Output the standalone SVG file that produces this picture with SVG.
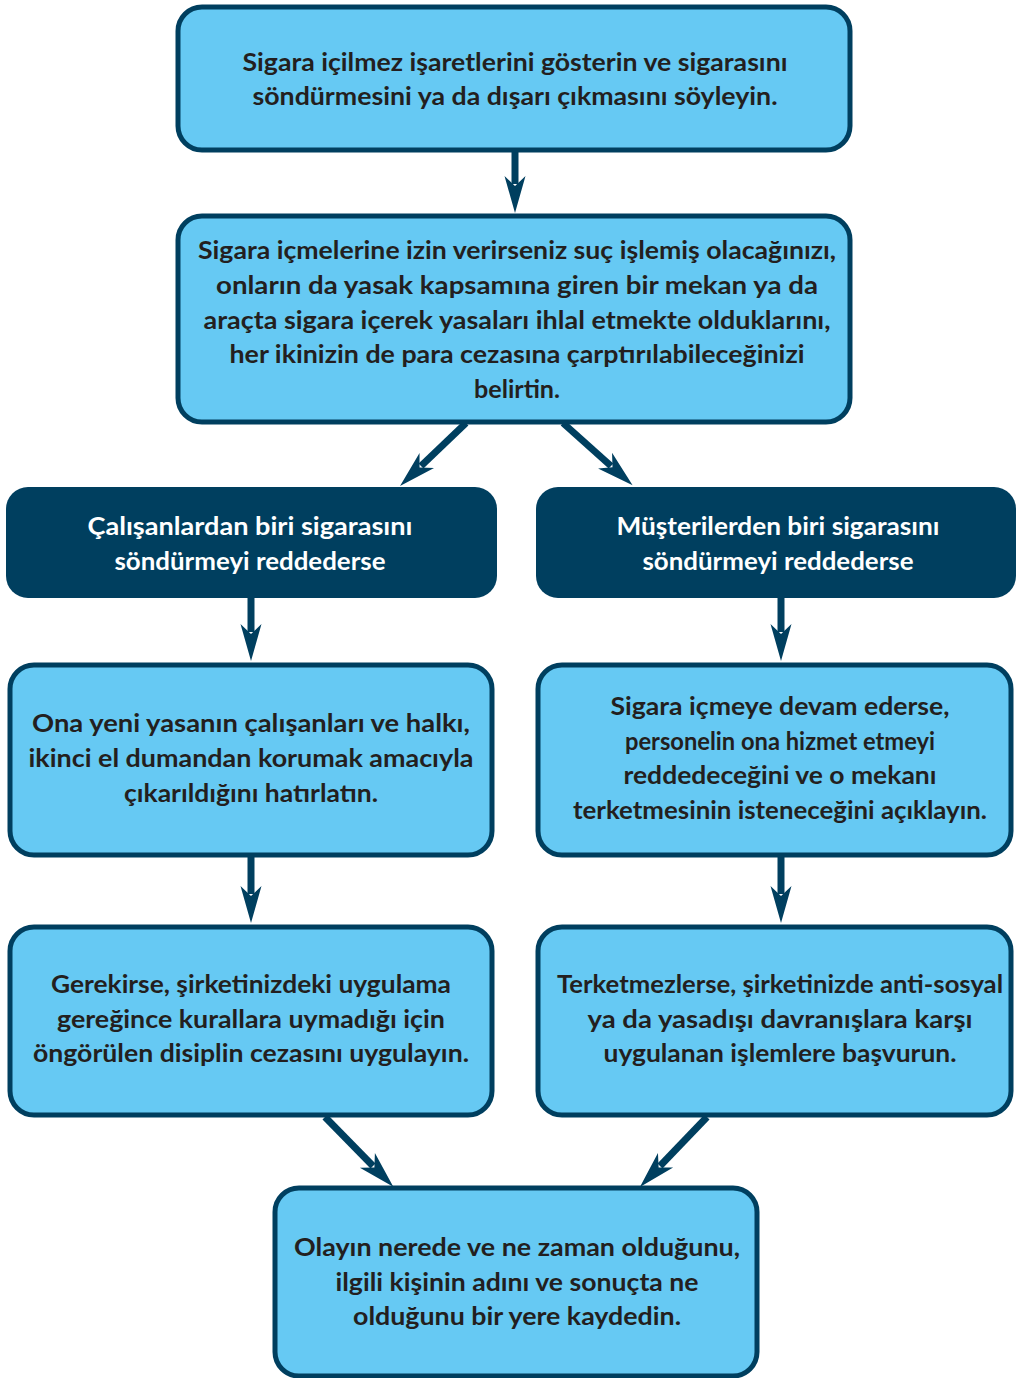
<svg xmlns="http://www.w3.org/2000/svg" width="1017" height="1378" viewBox="0 0 1017 1378">
<defs>
<style>
.box{fill:#66c9f3;stroke:#003f5f;stroke-width:5}
.dark{fill:#003f5f}
.t{font-family:Lato,"Open Sans","DejaVu Sans",sans-serif;font-weight:bold;font-size:24px;fill:#231f20;text-anchor:middle}
.w{fill:#ffffff}
.arr{stroke:#003f5f;stroke-width:7;fill:none;marker-end:url(#ah)}
</style>
<marker id="ah" markerUnits="userSpaceOnUse" viewBox="-38 -12 40 24" markerWidth="40" markerHeight="24" refX="-29" refY="0" orient="auto">
<path d="M0,0 L-37,-10.5 L-27,0 L-37,10.5 Z" fill="#003f5f"/>
</marker>
</defs>
<rect width="1017" height="1378" fill="#ffffff"/>
<g id="connectors">
<line class="arr" x1="515" y1="150" x2="515" y2="184"/>
<line class="arr" x1="466" y1="423" x2="421" y2="466"/>
<line class="arr" x1="563" y1="423" x2="611" y2="466"/>
<line class="arr" x1="251" y1="597" x2="251" y2="632"/>
<line class="arr" x1="781" y1="597" x2="781" y2="632"/>
<line class="arr" x1="251" y1="856" x2="251" y2="894"/>
<line class="arr" x1="781" y1="856" x2="781" y2="894"/>
<line class="arr" x1="325" y1="1117" x2="373" y2="1166"/>
<line class="arr" x1="707" y1="1117" x2="660" y2="1166"/>
</g>
<g id="n1">
<rect class="box" x="178" y="7" width="672" height="143" rx="24"/>
<text class="t" x="515" y="71" textLength="545" lengthAdjust="spacingAndGlyphs">Sigara içilmez işaretlerini gösterin ve sigarasını</text>
<text class="t" x="515" y="105" textLength="525" lengthAdjust="spacingAndGlyphs">söndürmesini ya da dışarı çıkmasını söyleyin.</text>
</g>
<g id="n2">
<rect class="box" x="178" y="216" width="672" height="206" rx="24"/>
<text class="t" x="517" y="259" textLength="638" lengthAdjust="spacingAndGlyphs">Sigara içmelerine izin verirseniz suç işlemiş olacağınızı,</text>
<text class="t" x="517" y="294" textLength="602" lengthAdjust="spacingAndGlyphs">onların da yasak kapsamına giren bir mekan ya da</text>
<text class="t" x="517" y="329" textLength="627" lengthAdjust="spacingAndGlyphs">araçta sigara içerek yasaları ihlal etmekte olduklarını,</text>
<text class="t" x="517" y="363" textLength="575" lengthAdjust="spacingAndGlyphs">her ikinizin de para cezasına çarptırılabileceğinizi</text>
<text class="t" x="517" y="398" textLength="86" lengthAdjust="spacingAndGlyphs">belirtin.</text>
</g>
<g id="n3">
<rect class="dark" x="6" y="487" width="491" height="111" rx="22"/>
<text class="t w" x="250" y="535" textLength="325" lengthAdjust="spacingAndGlyphs">Çalışanlardan biri sigarasını</text>
<text class="t w" x="250" y="570" textLength="271" lengthAdjust="spacingAndGlyphs">söndürmeyi reddederse</text>
</g>
<g id="n4">
<rect class="dark" x="536" y="487" width="480" height="111" rx="22"/>
<text class="t w" x="778" y="535" textLength="323" lengthAdjust="spacingAndGlyphs">Müşterilerden biri sigarasını</text>
<text class="t w" x="778" y="570" textLength="271" lengthAdjust="spacingAndGlyphs">söndürmeyi reddederse</text>
</g>
<g id="n5">
<rect class="box" x="10" y="665" width="482" height="190" rx="24"/>
<text class="t" x="251" y="732" textLength="438" lengthAdjust="spacingAndGlyphs">Ona yeni yasanın çalışanları ve halkı,</text>
<text class="t" x="251" y="767" textLength="445" lengthAdjust="spacingAndGlyphs">ikinci el dumandan korumak amacıyla</text>
<text class="t" x="251" y="802" textLength="254" lengthAdjust="spacingAndGlyphs">çıkarıldığını hatırlatın.</text>
</g>
<g id="n6">
<rect class="box" x="538" y="665" width="473" height="190" rx="24"/>
<text class="t" x="780" y="715" textLength="339" lengthAdjust="spacingAndGlyphs">Sigara içmeye devam ederse,</text>
<text class="t" x="780" y="750" textLength="310" lengthAdjust="spacingAndGlyphs">personelin ona hizmet etmeyi</text>
<text class="t" x="780" y="784" textLength="313" lengthAdjust="spacingAndGlyphs">reddedeceğini ve o mekanı</text>
<text class="t" x="780" y="819" textLength="414" lengthAdjust="spacingAndGlyphs">terketmesinin isteneceğini açıklayın.</text>
</g>
<g id="n7">
<rect class="box" x="10" y="927" width="482" height="188" rx="24"/>
<text class="t" x="251" y="993" textLength="400" lengthAdjust="spacingAndGlyphs">Gerekirse, şirketinizdeki uygulama</text>
<text class="t" x="251" y="1028" textLength="388" lengthAdjust="spacingAndGlyphs">gereğince kurallara uymadığı için</text>
<text class="t" x="251" y="1062" textLength="436" lengthAdjust="spacingAndGlyphs">öngörülen disiplin cezasını uygulayın.</text>
</g>
<g id="n8">
<rect class="box" x="538" y="927" width="473" height="188" rx="24"/>
<text class="t" x="780" y="993" textLength="446" lengthAdjust="spacingAndGlyphs">Terketmezlerse, şirketinizde anti-sosyal</text>
<text class="t" x="780" y="1028" textLength="385" lengthAdjust="spacingAndGlyphs">ya da yasadışı davranışlara karşı</text>
<text class="t" x="780" y="1062" textLength="353" lengthAdjust="spacingAndGlyphs">uygulanan işlemlere başvurun.</text>
</g>
<g id="n9">
<rect class="box" x="275" y="1188" width="482" height="188" rx="24"/>
<text class="t" x="517" y="1256" textLength="446" lengthAdjust="spacingAndGlyphs">Olayın nerede ve ne zaman olduğunu,</text>
<text class="t" x="517" y="1291" textLength="363" lengthAdjust="spacingAndGlyphs">ilgili kişinin adını ve sonuçta ne</text>
<text class="t" x="517" y="1325" textLength="328" lengthAdjust="spacingAndGlyphs">olduğunu bir yere kaydedin.</text>
</g>
</svg>
